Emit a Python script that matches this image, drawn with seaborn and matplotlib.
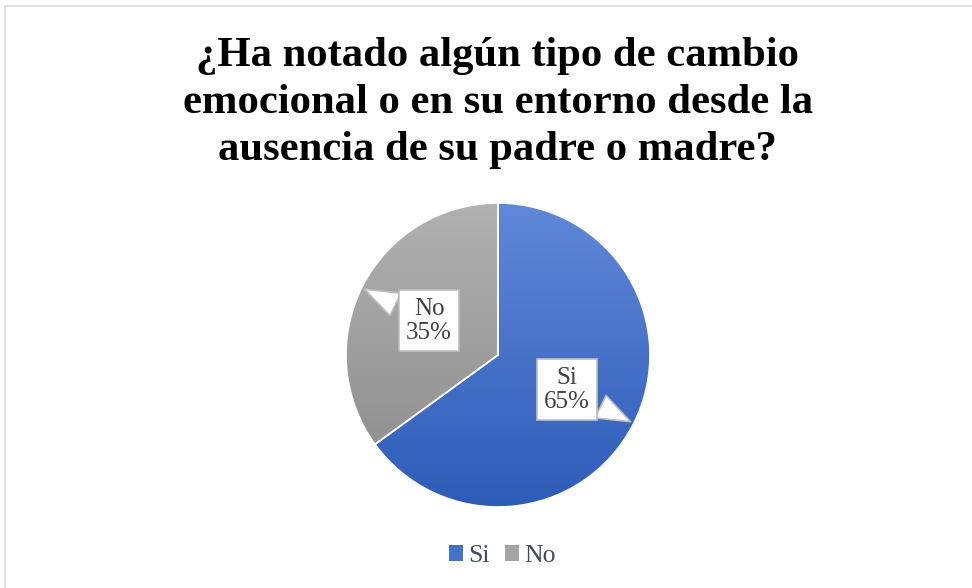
import matplotlib.pyplot as plt
import numpy as np
import seaborn as sns
from matplotlib.colors import LinearSegmentedColormap
from matplotlib.patches import Patch, Rectangle

categories = ['Si', 'No']
values = [65, 35]
pct_labels = ['65%', '35%']

sns.set_theme(style='white')
plt.rcParams['font.family'] = ['Liberation Serif', 'DejaVu Serif']

fig = plt.figure(figsize=(9.72, 5.88), dpi=100)
fig.patch.set_facecolor('white')

# chart border (light grey frame)
fig.add_artist(Rectangle((5 / 972, -0.01), 1.0, 1 - 6 / 588 + 0.01, transform=fig.transFigure,
                         fill=False, ec='#d9d9d9', lw=1.2))

fig.text(0.512, 1 - 103 / 588, '¿Ha notado algún tipo de cambio\nemocional o en su entorno desde la\nausencia de su padre o madre?',
         ha='center', va='center', fontsize=30.7, fontweight='bold', color='black', linespacing=1.3)

# pie axes, centred on the pie
cx, cy, r, half = 498, 355, 152, 175
ax = fig.add_axes([(cx - half) / 972, (588 - cy - half) / 588, 2 * half / 972, 2 * half / 588])
lim = half / r
ax.set_aspect('equal')
ax.axis('off')

base = ['#4472c4', '#a5a5a5']
wedges, _ = ax.pie(values, startangle=90, counterclock=False, radius=1,
                   colors=base, wedgeprops=dict(lw=1.2, ec='white'))

grads = [['#6088d8', '#2d5cb8'], ['#b1b1b1', '#8a8a8a']]
for w, (top, bot) in zip(wedges, grads):
    cmap = LinearSegmentedColormap.from_list('g', [bot, top])
    grad = np.linspace(0, 1, 256).reshape(-1, 1)
    im = ax.imshow(grad, cmap=cmap, extent=[-1, 1, -1, 1], origin='lower',
                   aspect='auto', zorder=w.get_zorder() + 0.1)
    im.set_clip_path(w)
ax.set_xlim(-lim, lim)
ax.set_ylim(-lim, lim)
for w in wedges:
    w.set_facecolor('none')
    w.set_zorder(3)

# data label callouts
label_pos = {'Si': ((0.888, -0.447), (0.454, -0.230)),
             'No': ((-0.895, 0.441), (-0.454, 0.224))}
for cat, pct in zip(categories, pct_labels):
    tip, txt = label_pos[cat]
    ax.annotate(f'{cat}\n{pct}', xy=tip, xytext=txt, ha='center', va='center',
                fontsize=18, color='#404040', zorder=5, linespacing=1.12,
                bbox=dict(boxstyle='square,pad=0.3', fc='white', ec='#bfbfbf', lw=1.2),
                arrowprops=dict(arrowstyle='wedge,tail_width=1.0,shrink_factor=0.5',
                                fc='white', ec='#bfbfbf', lw=1.2))

handles = [Patch(facecolor=c, edgecolor='none') for c in ['#4472c4', '#a5a5a5']]
fig.legend(handles, categories, loc='center', bbox_to_anchor=(502 / 972, 1 - 556 / 588), ncol=2,
           frameon=False, fontsize=18.5, handlelength=0.55, handleheight=0.55, handletextpad=0.2,
           columnspacing=0.6, labelcolor='#404a5a')

fig.savefig('out.png', dpi=100, facecolor='white')
